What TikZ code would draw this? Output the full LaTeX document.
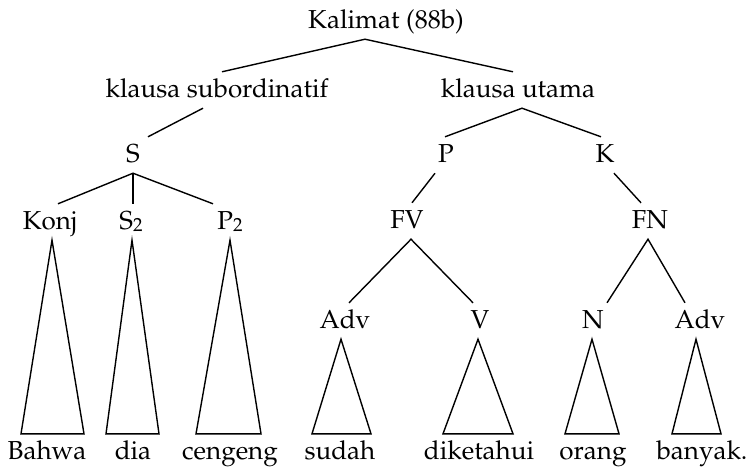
\documentclass[tikz,border=0pt]{standalone}
\usepackage[T1]{fontenc}
\usepackage{mathpazo}
\usepackage{tikz}

\newcommand{\sub}[1]{{\fontsize{19}{20}\selectfont\raisebox{-2pt}{#1}}}

\begin{document}
\begin{tikzpicture}
[%
    x=1pt, y=-1pt,
    lbl/.style={
      anchor=base,
      inner xsep=0pt,
      inner ysep=5pt,
      text height=20pt,
      text depth=6pt,
      font=\fontsize{26}{30}\selectfont
    },
    branch/.style={
      line width=1.4pt
    },
    roof/.style={
      line width=1.4pt,
      line join=miter
    }
  ]
  \useasboundingbox (0,0) rectangle (750,467);

  %Kalimat
    \draw (386,28) node[lbl] (kal) {Kalimat (88b)};
    \draw (217,97) node[lbl] (ksub) {klausa subordinatif};
    \draw (518,97) node[lbl] (kut) {klausa utama};
    \draw[branch] ([xshift=5pt]ksub.north) -- ([xshift=-21pt]kal.south) -- ([xshift=-5pt]kut.north);

  %Klausa subordinatif
    \draw (133,162) node[lbl] (S) {S};
    \draw[branch] ([xshift=-14pt]ksub.south) -- ([xshift=15pt]S.north);
    \draw (50,229) node[lbl] (konj) {Konj};
    \draw (131,229) node[lbl] (S2) {S\sub{2}};
    \draw (230,229) node[lbl] (P2) {P\sub{2}};
    \draw[branch] ([xshift=8pt]konj.north) -- (S.south) -- ([xshift=-17pt]P2.north);
    \draw[branch] (S.south) -- ([xshift=2pt]S2.north);

  %Klausa utama
    \draw (446,162) node[lbl] (P) {P};
    \draw (605,162) node[lbl] (K) {K};
    \draw[branch] ([xshift=-1pt]P.north) -- ([xshift=4pt]kut.south) -- ([xshift=-4pt]K.north);
    \draw (407,228) node[lbl] (FV) {FV};
    \draw (650,228) node[lbl] (FN) {FN};
    \draw[branch] ([xshift=-11pt]P.south) -- ([xshift=5pt]FV.north);
    \draw[branch] ([xshift=9pt]K.south) -- ([xshift=-9pt]FN.north);
    \draw (345,328) node[lbl] (adv) {Adv};
    \draw (480,328) node[lbl] (V) {V};
    \draw (593,328) node[lbl] (N) {N};
    \draw (700,328) node[lbl] (adv2) {Adv};
    \draw[branch] ([xshift=4pt]adv.north) -- ([xshift=4pt]FV.south) -- ([xshift=-7pt]V.north);
    \draw[branch] ([xshift=14pt]N.north) -- ([xshift=-2pt]FN.south) -- ([xshift=-15pt]adv2.north);

  %Leaves
    \draw (47,459) node[lbl] (bahwa) {Bahwa};
    \draw (133,459) node[lbl] (dia) {dia};
    \draw (230,459) node[lbl] (cengeng) {cengeng};
    \draw (340,459) node[lbl] (sudah) {sudah};
    \draw (479,459) node[lbl] (diket) {diketahui};
    \draw (593,459) node[lbl] (orang) {orang};
    \draw (702,459) node[lbl] (banyak) {banyak.};

    \draw[roof] ([xshift=2pt]konj.south) -- ([xshift=-26pt]bahwa.north) -- ([xshift=37pt]bahwa.north) -- cycle;
    \draw[roof] ([xshift=1pt]S2.south) -- ([xshift=-27pt]dia.north) -- ([xshift=26pt]dia.north) -- cycle;
    \draw[roof] (P2.south) -- ([xshift=-34pt]cengeng.north) -- ([xshift=31pt]cengeng.north) -- cycle;
    \draw[roof] ([xshift=-4pt]adv.south) -- ([xshift=-28pt]sudah.north) -- ([xshift=31pt]sudah.north) -- cycle;
    \draw[roof] ([xshift=-2pt]V.south) -- ([xshift=-36pt]diket.north) -- ([xshift=34pt]diket.north) -- cycle;
    \draw[roof] ([xshift=-1pt]N.south) -- ([xshift=-28pt]orang.north) -- ([xshift=26pt]orang.north) -- cycle;
    \draw[roof] ([xshift=-4pt]adv2.south) -- ([xshift=-30pt]banyak.north) -- ([xshift=19pt]banyak.north) -- cycle;

\end{tikzpicture}
\end{document}
